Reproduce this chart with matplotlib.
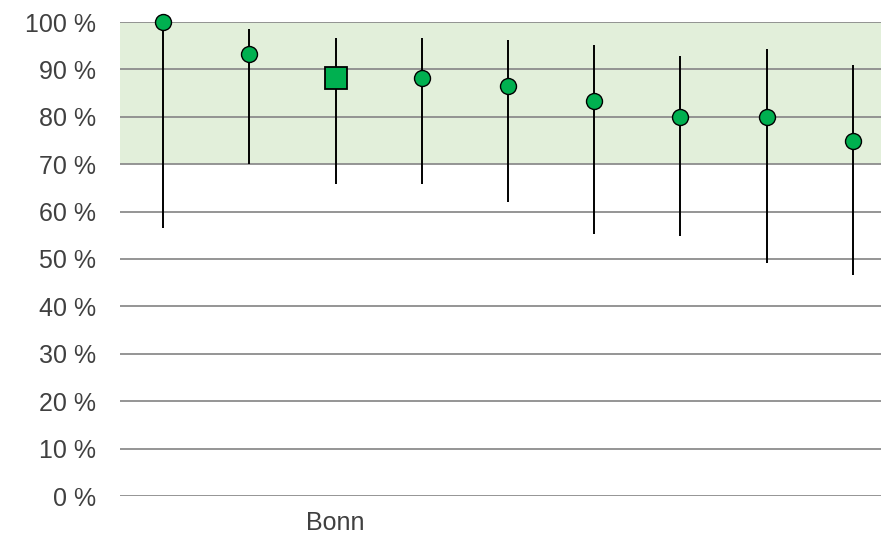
import matplotlib

matplotlib.use("Agg")
import matplotlib.pyplot as plt  # noqa: E402

# share values (%) with lower/upper bounds
labels = ["", "", "Bonn", "", "", "", "", "", ""]
values = [100.0, 93.3, 88.1, 88.1, 86.6, 83.3, 80.0, 80.0, 75.0]
lower = [56.5, 70.0, 65.8, 65.8, 62.1, 55.2, 54.8, 49.1, 46.7]
upper = [100.0, 98.6, 96.6, 96.6, 96.2, 95.1, 92.9, 94.2, 91.0]
highlight = "Bonn"
band = (70, 100)

INK, GRID = "#404040", "#8c8c8c"
C_BAND, C_MARK = "#e2efda", "#00b050"

plt.rcParams["font.family"] = ["Liberation Sans", "DejaVu Sans"]

fig = plt.figure(figsize=(8.81, 5.36), dpi=100)
ax = fig.add_axes([120 / 881, 1 - 496 / 536, 1 - 120 / 881, (496 - 22) / 536])

ax.axhspan(*band, color=C_BAND, zorder=0, lw=0)
for t in range(0, 101, 10):
    ax.axhline(t, color=GRID, lw=1.3, zorder=1)

x = list(range(len(values)))
for i, (v, lo, hi) in enumerate(zip(values, lower, upper)):
    ax.plot([i, i], [lo, hi], color="black", lw=1.4, zorder=2,
            solid_capstyle="butt")
    if labels[i] == highlight:
        ax.plot(i, v, marker="s", ms=15.5, mfc=C_MARK, mec="black",
                mew=1.3, zorder=3, clip_on=False)
    else:
        ax.plot(i, v, marker="o", ms=11.5, mfc=C_MARK, mec="black",
                mew=1.0, zorder=3, clip_on=False)

ax.set_ylim(0, 100)
ax.set_xlim(-0.5, (881 - 120) / 86.2 - 0.5)
ax.set_yticks(range(0, 101, 10))
ax.set_yticklabels([f"{t} %" for t in range(0, 101, 10)])
ax.set_xticks(x)
ax.set_xticklabels(labels)
ax.tick_params(axis="both", length=0, labelsize=18, colors=INK)
ax.tick_params(axis="y", pad=17)
ax.tick_params(axis="x", pad=11)
for s in ax.spines.values():
    s.set_visible(False)

fig.savefig("out.png", dpi=100)
